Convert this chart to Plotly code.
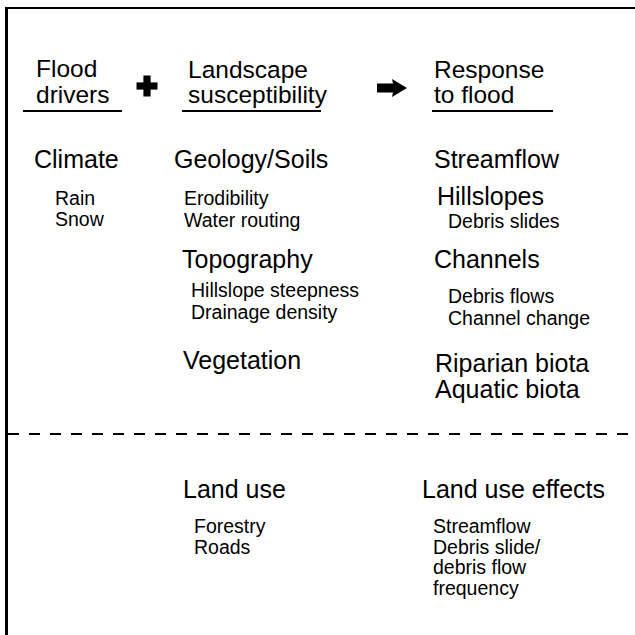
import plotly.graph_objects as go

# ---------------- content ----------------
header_drivers = ["Flood", "drivers"]
header_susceptibility = ["Landscape", "susceptibility"]
header_response = ["Response", "to flood"]

drivers = ["Climate"]
driver_items = [["Rain", "Snow"]]

susceptibility = ["Geology/Soils", "Topography", "Vegetation"]
susceptibility_items = [["Erodibility", "Water routing"],
                        ["Hillslope steepness", "Drainage density"],
                        []]

responses = ["Streamflow", "Hillslopes", "Channels", "Riparian biota", "Aquatic biota"]
response_items = [[], ["Debris slides"], ["Debris flows", "Channel change"], [], []]

land_use = ["Land use"]
land_use_items = [["Forestry", "Roads"]]

land_use_effects = ["Land use effects"]
land_use_effect_items = [["Streamflow", "Debris slide/", "debris flow", "frequency"]]

# ---------------- layout (pixel coordinates) ----------------
W = H = 635
FONT = "Liberation Sans, Arial, Helvetica, sans-serif"
S_HEAD, S_ITEM, S_SUB = 24.5, 25, 19.5

# (left x, baseline y) for each group
head_pos = {"drivers": (35, [77, 103]),
            "susc": (187, [78, 103]),
            "resp": (433, [78, 103])}
underlines = [(23, 122), (182, 321), (432, 553)]
UNDER_Y = 111

driver_pos = [((33, 168), (54, [205, 226]))]
susc_pos = [((173, 168), (183, [205, 227])),
            ((181, 268), (190, [297, 319])),
            ((182, 369), (0, []))]
resp_pos = [((433, 168), (0, [])),
            ((436, 205), (447, [228])),
            ((433, 268), (447, [303, 325])),
            ((434, 372), (0, [])),
            ((434, 398), (0, []))]
land_pos = [((182, 498), (193, [533, 553.5]))]
effect_pos = [((421, 498), (432, [533, 553.5, 574, 594.5]))]

annotations = []


def place(text, left, baseline, size):
    # centre of Liberation Sans text box is ~0.3465*size above baseline
    annotations.append(dict(
        text=text, x=left, y=baseline - 0.3465 * size,
        xref="x", yref="y", xanchor="left", yanchor="middle",
        showarrow=False, borderpad=0,
        font=dict(family=FONT, size=size, color="#000000")))


for lines, key in [(header_drivers, "drivers"), (header_susceptibility, "susc"),
                   (header_response, "resp")]:
    left, bases = head_pos[key]
    for t, b in zip(lines, bases):
        place(t, left, b, S_HEAD)


def group(titles, items, positions):
    for title, subs, ((tl, tb), (sl, sbs)) in zip(titles, items, positions):
        place(title, tl, tb, S_ITEM)
        for s, b in zip(subs, sbs):
            place(s, sl, b, S_SUB)


group(drivers, driver_items, driver_pos)
group(susceptibility, susceptibility_items, susc_pos)
group(responses, response_items, resp_pos)
group(land_use, land_use_items, land_pos)
group(land_use_effects, land_use_effect_items, effect_pos)

shapes = []
black = "#000000"
# frame: top and left border
shapes.append(dict(type="line", x0=5, x1=640, y0=8, y1=8, line=dict(color=black, width=2)))
shapes.append(dict(type="line", x0=6.5, x1=6.5, y0=7, y1=640, line=dict(color=black, width=3)))
# underlines
for x0, x1 in underlines:
    shapes.append(dict(type="line", x0=x0, x1=x1, y0=UNDER_Y, y1=UNDER_Y,
                       line=dict(color=black, width=2)))
# dashed separator
shapes.append(dict(type="line", x0=8, x1=640, y0=434, y1=434,
                   line=dict(color=black, width=2, dash="11px,10px")))
# plus sign
cx, cy, half, arm = 147, 86, 10.5, 3.6
shapes.append(dict(type="rect", x0=cx - half, x1=cx + half, y0=cy - arm, y1=cy + arm,
                   fillcolor=black, line=dict(width=0)))
shapes.append(dict(type="rect", x0=cx - arm, x1=cx + arm, y0=cy - half, y1=cy + half,
                   fillcolor=black, line=dict(width=0)))
# arrow
shapes.append(dict(type="path",
                   path="M 377 83.5 L 393 83.5 L 392 79 L 407 88 L 392 97 L 393 92.5 L 377 92.5 Z",
                   fillcolor=black, line=dict(width=0)))

fig = go.Figure()
fig.update_layout(
    width=W, height=H,
    margin=dict(l=0, r=0, t=0, b=0),
    paper_bgcolor="white", plot_bgcolor="white",
    xaxis=dict(range=[0, W], visible=False, fixedrange=True),
    yaxis=dict(range=[H, 0], visible=False, fixedrange=True),
    annotations=annotations, shapes=shapes, showlegend=False,
)
fig.write_html("out.html", config={"displayModeBar": False},
               post_script="document.body.style.margin='0';document.body.style.overflow='hidden';")
